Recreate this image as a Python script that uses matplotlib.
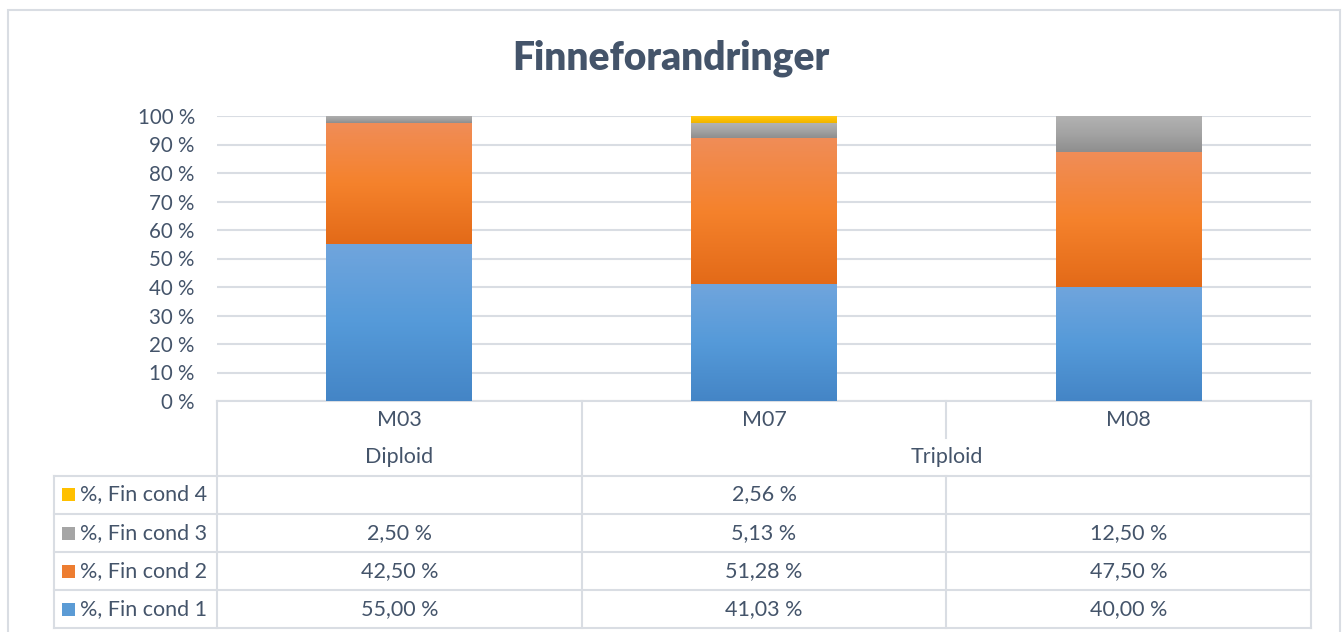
import numpy as np
import matplotlib
matplotlib.use("Agg")
import matplotlib.pyplot as plt
import matplotlib.transforms as mtransforms
from matplotlib.colors import LinearSegmentedColormap
from matplotlib.patches import Rectangle

# ---- data ----
title = "Finneforandringer"
categories = ["M03", "M07", "M08"]
groups = [("Diploid", 0, 0), ("Triploid", 1, 2)]
series_names = ["%, Fin cond 1", "%, Fin cond 2", "%, Fin cond 3", "%, Fin cond 4"]
cond1 = [55.00, 41.03, 40.00]
cond2 = [42.50, 51.28, 47.50]
cond3 = [2.50, 5.13, 12.50]
cond4 = [np.nan, 2.56, np.nan]
yticks = [0, 10, 20, 30, 40, 50, 60, 70, 80, 90, 100]

series = [cond1, cond2, cond3, cond4]
grads = [  # top, middle, bottom
    ("#70a5dd", "#559ad9", "#4485c6"),
    ("#f08d58", "#f5822c", "#e36a18"),
    ("#b2b2b2", "#a3a3a3", "#8e8e8e"),
    ("#ffcc22", "#ffc000", "#eeb400"),
]
legend_cols = ["#5b9bd5", "#ed7d31", "#a5a5a5", "#ffc000"]

FONT = ["Lato", "DejaVu Sans"]
TXT = "#44546a"
GRID = "#d9dde3"
FS = 15.5

W, H = 1342, 632
fig = plt.figure(figsize=(W / 100, H / 100), dpi=100)
fig.patch.set_facecolor("white")

# outer chart border
fig.patches.append(Rectangle((8 / W, -0.05), (1340 - 8) / W, 1 - 10 / H + 0.05,
                             transform=fig.transFigure, fill=False,
                             edgecolor=GRID, linewidth=1.5))

L, R, T, B = 217, 1311, 116, 401
ax = fig.add_axes([L / W, 1 - B / H, (R - L) / W, (B - T) / H])
ax.set_xlim(-0.5, len(categories) - 0.5)
ax.set_ylim(0, 100)
for s in ax.spines.values():
    s.set_visible(False)
ax.set_yticks(yticks)
ax.set_yticklabels([f"{v} %" for v in yticks], fontfamily=FONT, fontsize=14.8, color=TXT)
ax.tick_params(axis="y", length=0, pad=16)
ax.set_xticks([])
ax.yaxis.grid(True, color=GRID, linewidth=1.5)
ax.set_axisbelow(True)

x = np.arange(len(categories))
bottom = np.zeros(len(categories))
for vals, g in zip(series, grads):
    v = np.nan_to_num(np.array(vals, dtype=float))
    bars = ax.bar(x, v, 0.4, bottom=bottom, color=g[1], linewidth=0, zorder=2)
    cmap = LinearSegmentedColormap.from_list("g", [g[2], g[1], g[0]])
    grad = np.linspace(0, 1, 256).reshape(-1, 1)
    for p in bars.patches:
        if p.get_height() <= 0:
            continue
        bx, by, bw, bh = p.get_x(), p.get_y(), p.get_width(), p.get_height()
        im = ax.imshow(grad, cmap=cmap, origin="lower", aspect="auto",
                       extent=[bx, bx + bw, by, by + bh], zorder=3)
        im.set_clip_path(p)
    bottom = bottom + v
ax.set_xlim(-0.5, len(categories) - 0.5)
ax.set_ylim(0, 100)

# title
fig.text(0.5, 1 - 58 / H, title, ha="center", va="center", fontsize=28,
         fontweight="heavy", color=TXT, fontfamily=FONT)

# ---- data table ----
tr = mtransforms.blended_transform_factory(ax.transData, ax.transAxes)
ph = B - T
def ay(py):
    return (B - py) / ph
lab_left = (54 - L) / (R - L)
axtr = ax.transAxes
lkw = dict(color=GRID, linewidth=1.5, clip_on=False, zorder=1)

# header lines
ax.plot([-0.5, 2.5], [0, 0], transform=tr, **lkw)
for xb in [-0.5, 0.5, 1.5, 2.5]:
    if xb == 1.5:
        ax.plot([xb, xb], [ay(401), ay(438)], transform=tr, **lkw)
    else:
        ax.plot([xb, xb], [ay(401), ay(628)], transform=tr, **lkw)
row_lines = [476, 514, 552, 590, 628]
for py in row_lines:
    ax.plot([lab_left, 1], [ay(py), ay(py)], transform=axtr, **lkw)
ax.plot([lab_left, lab_left], [ay(476), ay(628)], transform=axtr, **lkw)
for xb in [1.5]:
    ax.plot([xb, xb], [ay(476), ay(628)], transform=tr, **lkw)

tkw = dict(fontfamily=FONT, fontsize=FS, color=TXT, ha="center", va="center")
for i, c in enumerate(categories):
    ax.text(i, ay(420), c, transform=tr, **tkw)
for name, a, b in groups:
    ax.text((a + b) / 2, ay(457), name, transform=tr, **tkw)

row_centers = [609, 571, 533, 494]  # cond1..cond4
sq = 13 / (R - L)
for k, (name, vals) in enumerate(zip(series_names, series)):
    yc = ay(row_centers[k])
    ax.add_patch(Rectangle(((62 - L) / (R - L), yc - 6.5 / ph), sq, 13 / ph,
                           transform=axtr, facecolor=legend_cols[k],
                           edgecolor="none", clip_on=False))
    ax.text((80 - L) / (R - L), yc, name, transform=axtr,
            **{**tkw, "ha": "left"})
    for i, v in enumerate(vals):
        if np.isnan(v):
            continue
        ax.text(i, yc, f"{v:.2f} %".replace(".", ","), transform=tr, **tkw)

fig.savefig("out.png", dpi=100, facecolor="white")
